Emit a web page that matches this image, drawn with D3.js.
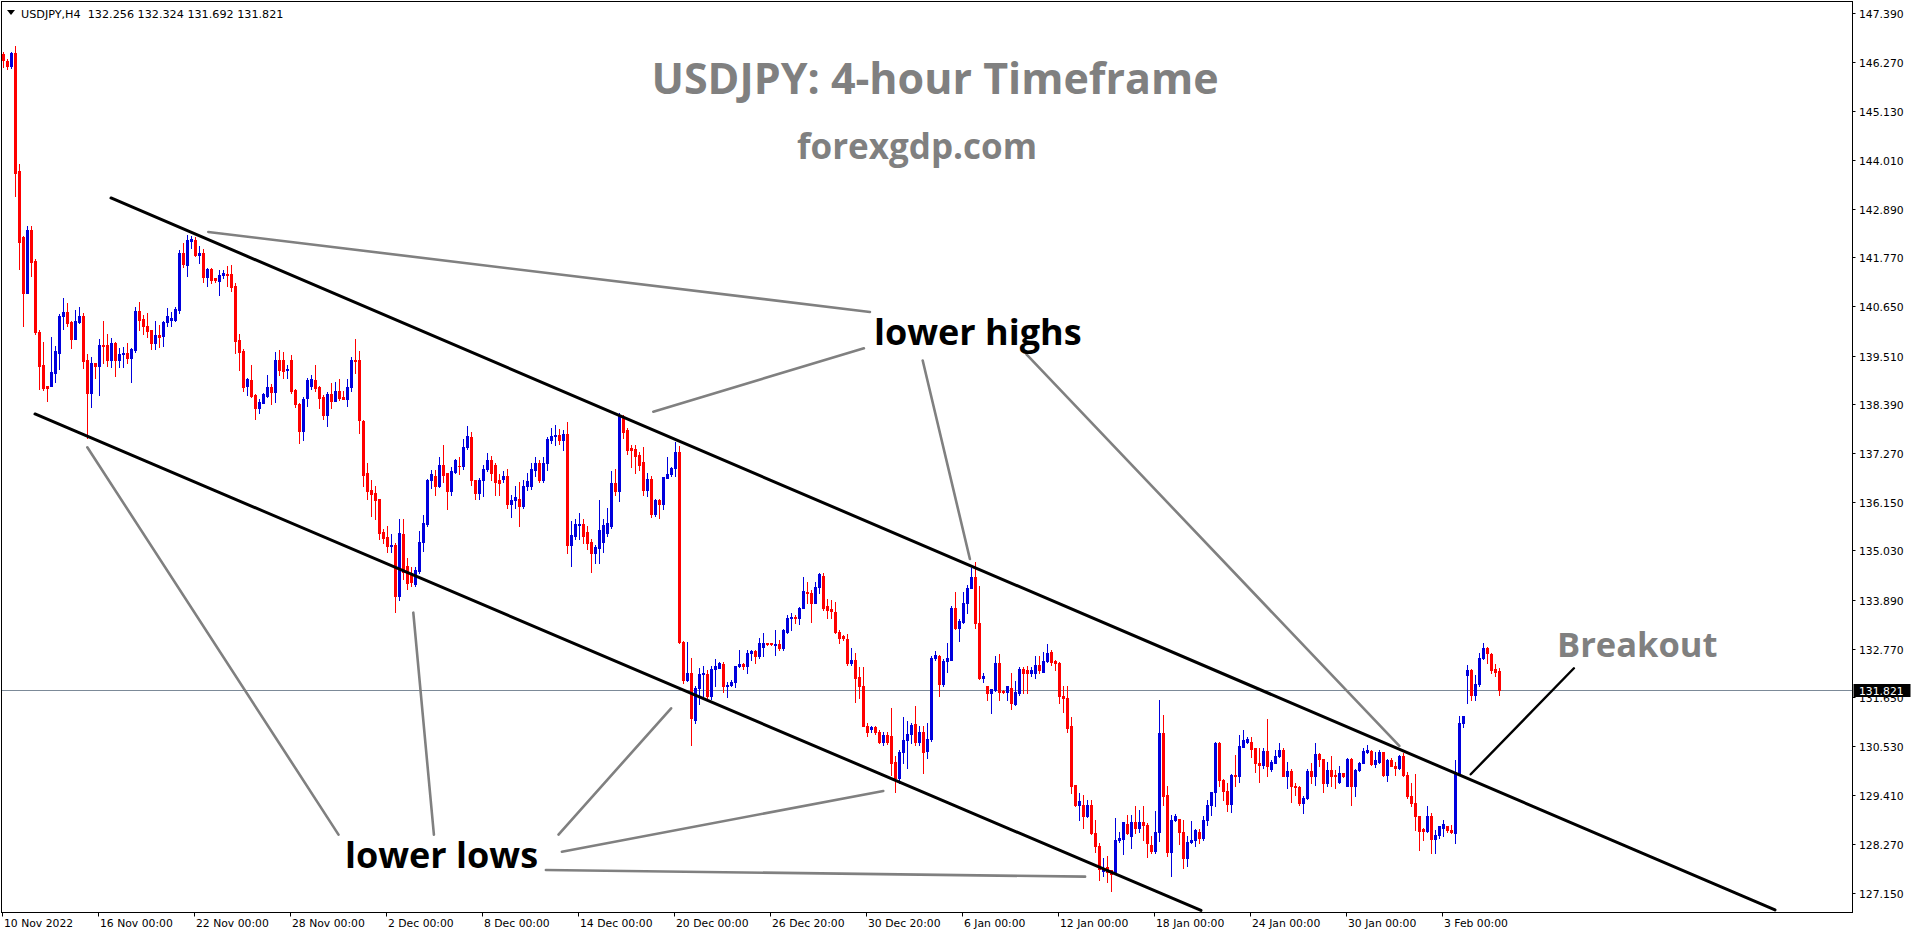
<!DOCTYPE html>
<html>
<head>
<meta charset="utf-8">
<script src="https://cdn.jsdelivr.net/npm/d3@7"></script>
<style>
  html, body { margin: 0; padding: 0; background: #ffffff; }
  svg { display: block; }
</style>
</head>
<body>
<div id="chart"></div>
<script>
// ---------------- DATA ----------------
const symbolHeader = "USDJPY,H4  132.256 132.324 131.692 131.821";
const lastPrice = 131.821;

const opens = [
146.45,146.29,146.17,146.46,143.76,142.23,140.96,142.40,141.69,140.06,
139.30,138.81,138.80,139.10,139.58,140.41,140.51,140.28,139.90,140.29,
140.43,139.41,138.64,139.33,139.28,139.75,139.75,139.40,139.80,139.41,
139.54,139.58,139.45,139.64,140.53,140.34,140.20,140.10,139.79,139.98,
139.96,140.28,140.33,140.33,140.56,141.86,141.60,142.14,142.16,141.83,
141.88,141.31,141.50,141.29,141.22,141.36,141.38,141.38,141.10,139.87,
139.62,138.80,138.95,138.60,138.31,138.43,138.57,138.78,138.68,139.40,
139.40,139.17,139.42,138.72,138.39,137.78,138.53,138.81,138.95,138.78,
138.56,138.14,138.62,138.47,138.70,138.55,138.50,138.78,139.41,139.41,
138.00,136.82,136.42,136.36,136.21,135.46,135.33,135.12,135.15,133.98,
135.41,134.66,134.50,134.26,134.56,135.23,135.64,136.65,136.74,136.50,
136.99,136.82,136.40,136.84,136.98,136.96,137.40,137.63,136.65,136.36,
136.64,136.90,137.11,136.99,136.65,136.67,136.73,136.10,136.18,136.21,
136.06,136.50,136.50,136.89,137.03,136.65,137.03,137.57,137.65,137.68,
137.57,137.71,135.16,135.35,135.62,135.64,135.46,135.23,134.96,135.08,
135.23,135.43,135.60,136.57,136.40,138.07,137.80,137.38,137.36,137.22,
137.06,136.42,136.66,135.87,136.20,136.10,136.69,136.79,136.92,137.30,
132.93,132.05,132.20,131.13,131.86,132.19,132.19,131.67,132.30,132.32,
132.42,131.90,131.93,132.01,132.37,132.42,132.36,132.68,132.72,132.59,
132.80,132.89,132.89,132.85,132.88,132.78,133.16,133.47,133.49,133.47,
133.70,134.08,134.06,133.83,134.18,134.44,133.75,133.68,133.62,133.16,
133.05,133.00,132.43,132.50,132.12,131.92,131.00,130.93,130.96,130.86,
130.62,130.79,130.75,130.16,129.79,130.40,130.67,130.80,131.03,130.63,
130.86,130.42,130.70,132.55,132.60,131.96,132.49,132.51,133.70,133.25,
133.39,133.81,134.16,134.41,133.37,132.10,131.90,131.74,131.82,132.43,
131.80,131.77,131.87,131.50,131.75,132.30,132.29,132.20,132.22,132.40,
132.24,132.49,132.69,132.49,132.43,131.69,131.63,130.98,129.64,129.18,
129.18,128.91,129.18,128.52,128.23,127.65,127.75,127.68,127.60,128.37,
128.40,128.74,128.45,128.79,128.64,128.79,128.72,128.26,128.12,128.56,
130.84,129.41,128.10,128.83,128.85,128.56,127.96,128.33,128.37,128.55,
128.41,128.83,129.18,129.47,130.59,129.75,129.50,129.19,129.86,129.83,
130.50,130.63,130.63,130.48,130.15,130.10,130.42,130.00,130.15,130.29,
130.44,129.85,129.96,129.61,129.58,129.21,129.33,129.96,129.85,130.34,
130.23,129.67,129.98,129.86,129.71,129.90,129.62,130.23,129.62,129.98,
130.13,130.40,130.42,130.12,130.17,130.39,129.86,130.21,130.07,130.02,
130.30,129.86,129.38,129.23,128.92,128.62,128.58,128.92,128.39,128.49,
128.64,128.70,128.60,128.54,129.92,131.05,132.17,132.28,131.71,131.96,
132.55,132.78,132.64,132.30,132.256
];
const highs = [
146.50,146.33,146.50,146.63,143.92,142.27,142.50,142.50,141.72,140.10,
139.83,138.81,139.93,139.73,140.47,140.84,140.73,140.30,140.55,140.63,
140.50,139.55,139.48,139.35,139.90,140.30,140.00,139.92,139.82,139.68,
139.71,139.81,139.68,140.63,140.75,140.45,140.50,140.10,140.31,140.22,
140.30,140.60,140.52,140.62,141.93,142.10,142.29,142.26,142.23,142.02,
141.96,141.52,141.52,141.30,141.47,141.48,141.56,141.60,141.17,140.00,
139.66,139.00,139.30,138.62,138.52,138.65,139.07,138.85,139.59,139.63,
139.60,139.30,139.53,138.75,138.41,138.55,139.00,139.07,139.30,138.80,
138.60,138.68,138.88,138.90,138.98,138.70,138.98,139.47,139.90,139.62,
138.04,137.03,136.65,136.50,136.21,135.53,135.60,135.40,135.20,135.75,
135.75,134.86,134.65,134.65,135.48,135.84,136.66,136.88,136.88,137.18,
137.45,136.82,136.95,137.13,137.18,137.60,137.90,137.76,136.65,136.70,
137.00,137.27,137.20,137.05,136.78,136.85,136.90,136.31,136.52,136.60,
136.64,136.82,137.03,137.18,137.10,137.18,137.64,137.84,137.91,137.82,
137.80,137.98,135.70,135.75,135.90,135.75,135.60,135.30,135.16,136.20,
135.75,136.00,136.85,136.90,138.18,138.15,137.84,137.45,137.45,137.30,
137.40,136.80,136.74,136.22,136.22,136.71,137.17,136.95,137.53,137.42,
132.95,132.93,132.55,131.90,132.32,132.37,132.28,132.36,132.53,132.47,
132.47,132.01,132.05,132.37,132.74,132.44,132.74,132.74,132.74,133.01,
133.14,132.91,132.90,133.20,132.97,133.22,133.55,133.60,133.55,133.72,
134.41,134.31,134.12,134.31,134.52,134.50,133.91,133.89,133.85,133.20,
133.08,133.11,132.78,132.66,132.35,132.35,131.05,131.00,131.00,130.90,
130.85,130.85,131.40,130.29,130.44,131.20,131.10,131.05,131.45,130.98,
130.98,131.05,132.60,132.72,132.63,132.52,132.90,133.75,134.08,133.44,
134.08,134.24,134.62,134.77,134.20,132.20,131.91,131.84,132.59,132.65,
131.82,131.90,132.20,132.03,132.34,132.34,132.36,132.34,132.60,132.59,
132.70,132.87,132.74,132.51,132.46,131.91,131.91,131.20,129.64,129.44,
129.40,129.29,129.29,128.83,128.29,127.95,128.00,127.68,128.87,128.56,
128.79,128.95,128.95,129.15,129.06,129.14,128.75,128.45,129.04,131.59,
131.25,129.60,128.94,128.97,128.85,128.83,128.45,128.81,128.62,128.62,
128.92,129.29,129.48,130.63,130.62,129.77,129.67,129.89,130.33,130.79,
130.90,130.73,130.73,130.49,130.48,130.48,131.15,130.21,130.44,130.59,
130.48,130.17,130.00,129.67,129.60,129.37,129.99,130.13,130.61,130.36,
130.23,130.17,130.29,129.98,130.07,129.92,130.25,130.25,130.00,130.17,
130.48,130.56,130.44,130.40,130.44,130.40,130.23,130.25,130.17,130.33,
130.36,129.94,129.67,129.89,128.92,128.64,129.15,129.00,128.60,128.69,
128.83,128.70,128.71,130.21,131.21,131.21,132.40,132.30,132.17,132.66,
132.91,132.80,132.66,132.41,132.324
];
const lows = [
146.15,146.10,146.12,143.19,141.50,140.20,140.94,141.34,140.00,138.75,
138.72,138.47,138.85,138.90,139.20,140.12,140.20,139.68,139.90,140.27,
139.23,137.62,138.33,138.99,138.60,139.35,139.28,139.25,139.05,139.25,
139.25,139.35,138.90,139.60,140.10,140.00,139.94,139.66,139.66,139.70,
139.73,140.20,140.20,140.30,140.50,141.55,141.33,141.98,141.80,141.64,
141.20,141.10,141.17,141.20,140.90,141.30,141.10,141.00,139.58,139.18,
138.70,138.60,138.55,138.06,138.20,138.42,138.55,138.40,138.45,139.07,
139.00,139.00,138.65,138.32,137.50,137.57,138.35,138.75,138.70,138.30,
138.05,137.90,138.30,138.46,138.48,138.50,138.35,138.70,139.10,137.72,
136.50,136.21,135.82,135.76,135.30,135.20,135.00,135.00,133.62,133.88,
134.36,134.15,134.20,134.20,134.50,135.02,135.60,136.47,136.30,136.49,
136.60,135.97,136.30,136.80,136.78,136.90,137.37,136.53,136.21,136.22,
136.28,136.85,136.65,136.30,136.31,136.60,136.00,135.80,136.00,135.60,
136.00,136.42,136.45,136.75,136.60,136.60,136.88,137.50,137.45,137.48,
137.35,134.97,134.66,135.30,135.30,135.20,135.05,134.53,134.75,134.75,
135.00,135.35,135.55,136.30,136.17,137.62,137.25,136.95,136.80,136.87,
136.30,136.28,135.80,135.82,135.77,135.99,136.69,136.73,136.73,132.90,
131.98,132.02,130.56,131.05,131.50,131.67,131.60,131.60,131.90,132.32,
131.78,131.65,131.90,131.88,132.35,132.30,132.20,132.50,132.44,132.55,
132.59,132.85,132.85,132.63,132.74,132.74,133.12,133.20,133.35,133.34,
133.70,133.83,133.39,133.81,134.04,133.66,133.47,133.47,133.12,132.89,
132.97,132.40,132.40,131.55,131.63,130.98,130.76,130.85,130.80,130.60,
130.55,130.58,129.87,129.48,129.67,130.13,130.02,130.60,130.55,130.55,
129.92,130.25,130.65,132.51,131.67,131.90,132.24,132.50,133.22,132.95,
133.37,133.58,134.16,133.24,132.06,132.01,131.59,131.30,131.80,131.59,
131.74,131.59,131.38,131.47,131.70,131.74,131.74,132.13,132.09,132.20,
132.24,132.47,132.40,132.28,131.53,131.32,130.86,129.44,129.15,128.83,
128.64,128.89,128.50,128.10,127.45,127.55,127.40,127.20,127.60,128.33,
128.05,128.51,128.18,128.52,128.56,128.37,127.97,128.08,128.08,128.35,
129.18,127.99,127.54,128.80,128.28,127.72,127.76,128.30,128.23,128.31,
128.37,128.72,128.95,129.16,129.60,129.29,129.04,129.02,129.60,129.71,
130.50,130.61,130.27,129.94,129.71,130.02,129.85,129.96,130.13,130.27,
129.83,129.56,129.25,129.41,129.18,129.00,129.31,129.67,129.63,130.06,
129.48,129.60,129.60,129.56,129.67,129.81,129.62,129.18,129.39,129.96,
130.13,130.38,130.10,130.04,130.15,129.83,129.73,130.06,129.86,130.00,
129.83,129.33,129.14,128.60,128.14,128.37,128.56,128.06,128.08,128.41,
128.45,128.56,128.52,128.31,129.90,130.96,131.51,131.59,131.58,131.90,
132.53,132.43,132.22,132.14,131.692
];
const closes = [
146.30,146.16,146.46,143.72,142.13,140.96,142.40,141.67,140.06,139.28,
138.77,138.77,139.14,139.62,140.43,140.51,140.27,139.90,140.30,140.41,
139.39,138.64,139.33,139.27,139.75,139.72,139.40,139.79,139.40,139.55,
139.58,139.45,139.66,140.53,140.33,140.19,140.07,139.79,139.98,139.94,
140.28,140.43,140.37,140.58,141.86,141.62,142.16,142.18,141.83,141.88,
141.31,141.50,141.25,141.24,141.37,141.40,141.37,141.08,139.85,139.60,
138.78,138.97,138.58,138.31,138.45,138.62,138.78,138.68,139.41,139.18,
139.16,139.21,138.70,138.39,137.78,138.52,138.95,138.97,138.77,138.54,
138.14,138.62,138.47,138.70,138.53,138.50,138.78,139.41,139.39,138.04,
136.77,136.40,136.33,136.19,135.44,135.31,135.12,135.15,133.98,135.42,
134.54,134.27,134.30,134.58,135.23,135.65,136.65,136.79,136.50,136.99,
136.76,136.40,136.86,137.10,136.96,137.40,137.65,136.64,136.36,136.64,
136.90,137.11,136.80,136.61,136.57,136.73,136.10,136.19,136.25,136.06,
136.50,136.63,136.90,137.03,136.65,137.03,137.59,137.66,137.68,137.57,
137.71,135.16,135.39,135.64,135.64,135.35,135.21,134.96,135.10,135.50,
135.62,135.65,136.57,136.40,138.11,137.76,137.34,137.34,137.20,136.99,
136.42,136.66,135.87,136.20,136.10,136.71,136.79,136.92,137.30,132.93,
132.05,132.20,131.17,131.86,132.19,132.21,131.67,132.30,132.36,132.45,
131.90,131.93,132.01,132.37,132.42,132.36,132.68,132.72,132.59,132.91,
132.89,132.87,132.87,132.87,132.78,133.20,133.47,133.49,133.47,133.70,
134.10,134.04,133.83,134.18,134.49,133.70,133.66,133.64,133.16,133.02,
133.02,132.43,132.50,132.10,131.90,131.00,130.86,130.96,130.86,130.63,
130.79,130.62,130.15,129.79,130.40,130.67,130.80,131.02,130.63,130.86,
130.40,130.70,132.55,132.63,131.96,132.49,132.55,133.71,133.25,133.41,
133.83,134.16,134.41,133.37,132.10,132.14,131.74,131.84,132.43,131.78,
131.77,131.90,131.53,131.77,132.30,132.20,132.20,132.29,132.40,132.28,
132.49,132.68,132.47,132.45,131.67,131.63,130.95,129.61,129.18,129.27,
128.91,129.18,128.52,128.23,127.70,127.72,127.64,127.58,128.37,128.41,
128.79,128.52,128.79,128.64,128.79,128.72,128.31,128.12,128.56,130.84,
129.37,128.10,128.83,128.93,128.56,127.96,128.33,128.37,128.59,128.41,
128.83,129.18,129.47,130.59,129.75,129.50,129.19,129.86,129.83,130.52,
130.66,130.69,130.46,130.13,130.10,130.42,130.06,130.17,130.29,130.44,
129.85,129.96,129.61,129.58,129.21,129.33,129.96,129.85,130.34,130.23,
129.67,129.98,129.85,129.83,129.90,129.83,130.23,129.62,129.98,130.15,
130.42,130.44,130.12,130.20,130.39,129.86,130.21,130.07,130.02,130.30,
129.86,129.37,129.21,128.92,128.58,128.58,128.92,128.39,128.49,128.69,
128.73,128.60,128.55,129.94,131.05,131.21,132.28,131.71,131.96,132.55,
132.78,132.66,132.28,132.24,131.821
];

const priceTicks = [147.39,146.27,145.13,144.01,142.89,141.77,140.65,139.51,138.39,137.27,
                    136.15,135.03,133.89,132.77,131.65,130.53,129.41,128.27,127.15];
const timeLabels = ["10 Nov 2022","16 Nov 00:00","22 Nov 00:00","28 Nov 00:00","2 Dec 00:00",
                    "8 Dec 00:00","14 Dec 00:00","20 Dec 00:00","26 Dec 20:00","30 Dec 20:00",
                    "6 Jan 00:00","12 Jan 00:00","18 Jan 00:00","24 Jan 00:00","30 Jan 00:00","3 Feb 00:00"];
const timeLabelBars = [0,24,48,72,96,120,144,168,192,216,240,264,288,312,336,360];

// trend lines in data space: [barIndex, price]
const channelUpper = [[26.875,143.135],[442.875,126.759]];
const channelLower = [[7.875,138.167],[299.375,126.748]];
const pointerHighs = [
  [[51.2,142.353],[216.6,140.513]],
  [[162.45,138.22],[215.1,139.678]],
  [[229.8,139.397],[241.6,134.832]],
  [[255.75,139.538],[348.95,130.531]]
];
const pointerLows = [
  [[20.95,137.401],[83.75,128.493]],
  [[102.45,133.597],[107.6,128.493]],
  [[138.75,128.493],[166.9,131.398]],
  [[139.6,128.10],[219.95,129.496]],
  [[135.6,127.679],[270.4,127.525]]
];
const breakoutPointer = [[366.8,129.88],[392.6,132.318]];

// ---------------- LAYOUT ----------------
const W = 1916, H = 936;
const plot = {left: 1.5, right: 1852.5, top: 1.5, bottom: 912.5};
const BULL = "#0000dd", BEAR = "#ff0000";
const axisFont = "'DejaVu Sans', Verdana, sans-serif";
const bigFont = "'Open Sans', 'Noto Sans', sans-serif";

const svg = d3.select("#chart").append("svg")
  .attr("width", W).attr("height", H)
  .attr("viewBox", `0 0 ${W} ${H}`);
svg.append("rect").attr("width", W).attr("height", H).attr("fill", "#ffffff");

const x = d3.scaleLinear().domain([-0.5, 462]).range([plot.left, plot.right - 1]);
const y = d3.scaleLinear().domain([126.701, 147.654]).range([plot.bottom, plot.top]);

svg.append("clipPath").attr("id", "plotclip").append("rect")
  .attr("x", plot.left).attr("y", plot.top)
  .attr("width", plot.right - plot.left).attr("height", plot.bottom - plot.top);

const candles = opens.map((o, i) => ({i, o, h: highs[i], l: lows[i], c: closes[i]}));

// current price line
const gPlot = svg.append("g").attr("clip-path", "url(#plotclip)");
gPlot.append("line")
  .attr("x1", plot.left).attr("x2", plot.right)
  .attr("y1", Math.round(y(lastPrice)) + 0.5).attr("y2", Math.round(y(lastPrice)) + 0.5)
  .attr("stroke", "#7c8a98").attr("stroke-width", 1);

// candles
const gC = gPlot.append("g");
candles.forEach(d => {
  const col = d.c >= d.o ? BULL : BEAR;
  const cx = Math.floor(x(d.i)) + 0.5;
  gC.append("line")
    .attr("x1", cx).attr("x2", cx)
    .attr("y1", Math.round(y(d.h))).attr("y2", Math.round(y(d.l)) + 1)
    .attr("stroke", col).attr("stroke-width", 1);
  const yt = Math.round(y(Math.max(d.o, d.c)));
  const yb = Math.round(y(Math.min(d.o, d.c)));
  gC.append("rect")
    .attr("x", cx - 1.5).attr("width", 3)
    .attr("y", yt).attr("height", Math.max(1, yb - yt + 1))
    .attr("fill", col);
});

// lines
const lineGen = d3.line().x(p => x(p[0])).y(p => y(p[1]));
const gL = gPlot.append("g").attr("fill", "none").attr("stroke-linecap", "round");
[channelUpper, channelLower].forEach(seg => {
  gL.append("path").attr("d", lineGen(seg)).attr("stroke", "#000").attr("stroke-width", 3);
});
pointerHighs.concat(pointerLows).forEach(seg => {
  gL.append("path").attr("d", lineGen(seg)).attr("stroke", "#808080").attr("stroke-width", 2.6);
});
gL.append("path").attr("d", lineGen(breakoutPointer)).attr("stroke", "#000").attr("stroke-width", 2.4);

// frame
svg.append("rect")
  .attr("x", plot.left).attr("y", plot.top)
  .attr("width", plot.right - plot.left).attr("height", plot.bottom - plot.top)
  .attr("fill", "none").attr("stroke", "#000").attr("stroke-width", 1);

// price axis
const gY = svg.append("g").attr("font-family", axisFont).attr("font-size", 10.8).attr("fill", "#000");
priceTicks.forEach(p => {
  const yy = Math.round(y(p)) + 0.5;
  gY.append("line").attr("x1", plot.right).attr("x2", plot.right + 3)
    .attr("y1", yy).attr("y2", yy).attr("stroke", "#000");
  gY.append("text").attr("x", plot.right + 6.5).attr("y", yy + 4).text(p.toFixed(3));
});
// last price badge
const ly = Math.round(y(lastPrice));
gY.append("rect").attr("x", plot.right + 1).attr("y", ly - 6).attr("width", 57).attr("height", 13).attr("fill", "#000");
gY.append("text").attr("x", plot.right + 6.5).attr("y", ly + 5).attr("fill", "#fff").text(lastPrice.toFixed(3));

// time axis
const gX = svg.append("g").attr("font-family", axisFont).attr("font-size", 10.8).attr("fill", "#000");
timeLabelBars.forEach((b, k) => {
  const xx = Math.floor(x(b)) + 0.5 - 1;
  gX.append("line").attr("x1", xx).attr("x2", xx).attr("y1", plot.bottom).attr("y2", plot.bottom + 4)
    .attr("stroke", "#000");
  gX.append("text").attr("x", xx + 1.5).attr("y", 927).text(timeLabels[k]);
});

// header
svg.append("path").attr("d", "M7,10 L15,10 L11,15 Z").attr("fill", "#000");
svg.append("text").attr("x", 21).attr("y", 17.5)
  .attr("font-family", axisFont).attr("font-size", 11.2).attr("fill", "#000")
  .attr("xml:space", "preserve").style("white-space", "pre").text(symbolHeader);

// annotations
const ann = svg.append("g").attr("font-family", bigFont).attr("font-weight", 700);
ann.append("text").attr("x", 935).attr("y", 94).attr("text-anchor", "middle")
  .attr("font-size", 43).attr("fill", "#808080").text("USDJPY: 4-hour Timeframe");
ann.append("text").attr("x", 917).attr("y", 159).attr("text-anchor", "middle")
  .attr("font-size", 35).attr("fill", "#808080").text("forexgdp.com");
ann.append("text").attr("x", 874).attr("y", 345)
  .attr("font-size", 36).attr("fill", "#000").text("lower highs");
ann.append("text").attr("x", 345).attr("y", 868)
  .attr("font-size", 36).attr("fill", "#000").text("lower lows");
ann.append("text").attr("x", 1557).attr("y", 657)
  .attr("font-size", 34.5).attr("font-weight", 700).attr("fill", "#808080").text("Breakout");
</script>
</body>
</html>
